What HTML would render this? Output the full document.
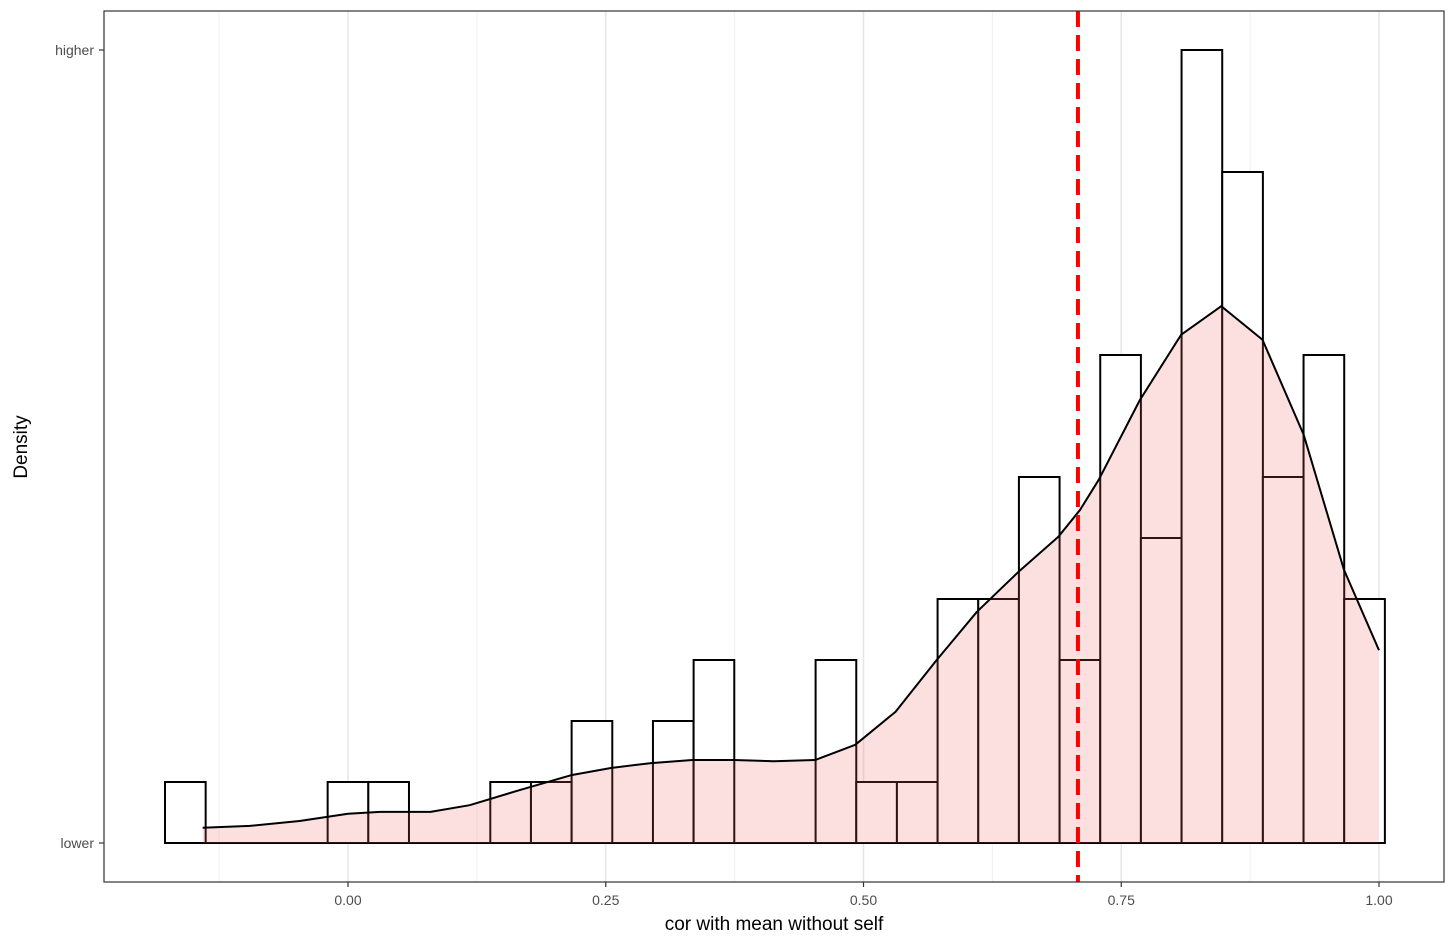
<!DOCTYPE html>
<html><head><meta charset="utf-8"><style>
html,body{margin:0;padding:0;background:#fff;}
svg{display:block;font-family:"Liberation Sans","DejaVu Sans",sans-serif;}
</style></head><body>
<svg id="chart" width="1456" height="946"></svg>
<script>
const binCounts=[1,0,0,0,1,1,0,0,1,1,2,0,2,3,0,0,3,1,1,4,4,6,3,8,5,13,11,6,8,4];
const binStart=-0.1775;
const binWidth=0.03944;
const densX=[-0.141,-0.095,-0.047,0,0.031,0.080,0.118,0.167,0.216,0.255,0.294,0.334,0.374,0.413,0.453,0.492,0.531,0.571,0.610,0.650,0.689,0.710,0.728,0.768,0.808,0.847,0.887,0.927,0.966,1.0];
const densY=[0.25,0.28,0.36,0.48,0.51,0.51,0.62,0.87,1.11,1.23,1.31,1.36,1.36,1.34,1.36,1.61,2.15,3.0,3.79,4.44,5.02,5.46,5.95,7.26,8.33,8.80,8.25,6.69,4.48,3.16];
const xTicks=[0,0.25,0.5,0.75,1.0];
const xTickLabels=["0.00","0.25","0.50","0.75","1.00"];
const xMinor=[-0.125,0.125,0.375,0.625,0.875];
const vline=0.708;

const NS="http://www.w3.org/2000/svg";
const svg=document.getElementById('chart');
const X=v=>348+v*1031;
const Y=c=>843-c*61;
function mk(tag,attrs,parent){const e=document.createElementNS(NS,tag);for(const k in attrs)e.setAttribute(k,attrs[k]);(parent||svg).appendChild(e);return e;}

xMinor.forEach(v=>{const l=mk('line',{x1:X(v),x2:X(v),y1:11,y2:882,stroke:'#f0f0f0','stroke-width':1});

});
xTicks.forEach(v=>{const l=mk('line',{x1:X(v),x2:X(v),y1:11,y2:882,stroke:'#e6e6e6','stroke-width':1.5});

});

binCounts.forEach((c,i)=>{if(c<=0)return;const x0=X(binStart+i*binWidth),x1=X(binStart+(i+1)*binWidth);
const r=mk('rect',{x:x0,y:Y(c),width:x1-x0,height:Y(0)-Y(c),fill:'#fff',stroke:'#000','stroke-width':2});

});
// baseline under empty bins
const bl=mk('line',{x1:X(binStart),x2:X(binStart+binCounts.length*binWidth),y1:Y(0),y2:Y(0),stroke:'#000','stroke-width':2});



let d='M'+X(densX[0])+','+Y(0);
densX.forEach((v,i)=>{d+=' L'+X(v)+','+Y(densY[i]);});
d+=' L'+X(densX[densX.length-1])+','+Y(0)+' Z';
const area=mk('path',{d:d,fill:'rgba(242,100,100,0.2)',stroke:'none'});


let dl='';densX.forEach((v,i)=>{dl+=(i?' L':'M')+X(v)+','+Y(densY[i]);});
const dline=mk('path',{d:dl,fill:'none',stroke:'#000','stroke-width':2,'stroke-linejoin':'round'});



const rl=mk('line',{x1:X(vline),x2:X(vline),y1:11,y2:882,stroke:'#ff0000','stroke-width':4,'stroke-dasharray':'16,8'});



const fr=mk('rect',{x:104,y:11,width:1340,height:871,fill:'none',stroke:'#333','stroke-width':1.2});



xTicks.forEach((v,i)=>{const t=mk('line',{x1:X(v),x2:X(v),y1:882,y2:887,stroke:'#333','stroke-width':1.2});


const tx=mk('text',{x:X(v),y:905,'text-anchor':'middle','font-size':14,fill:'#4d4d4d'});tx.textContent=xTickLabels[i];

});
[['higher',50],['lower',843]].forEach(([s,y])=>{const t=mk('line',{x1:99,x2:104,y1:y,y2:y,stroke:'#333','stroke-width':1.2});


const tx=mk('text',{x:94,y:y+5,'text-anchor':'end','font-size':14,fill:'#4d4d4d'});tx.textContent=s;

});
const xt=mk('text',{x:774,y:930,'text-anchor':'middle','font-size':19,fill:'#000'});xt.textContent='cor with mean without self';


const yt=mk('text',{x:27,y:447,'text-anchor':'middle','font-size':19,fill:'#000',transform:'rotate(-90 27 447)'});yt.textContent='Density';


</script>
</body></html>
